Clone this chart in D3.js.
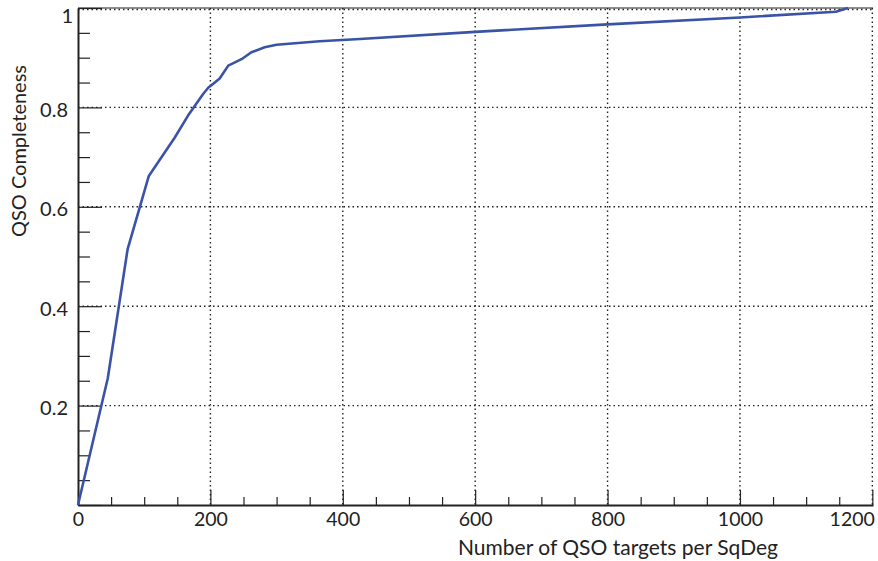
<!DOCTYPE html>
<meta charset="utf-8">
<script src="https://d3js.org/d3.v7.min.js"></script>
<style>
  body { margin: 0; background: #fff; }
  text { font-family: Lato, "Open Sans", sans-serif; fill: #222; }
</style>
<div id="chart"></div>
<script>
// curve
var targets = [0, 45, 75, 107, 146, 166, 189, 197, 202, 214, 227, 247, 262, 282, 300, 365, 426, 600, 800, 1000, 1145, 1163];
var completeness = [0, 0.255, 0.515, 0.662, 0.739, 0.783, 0.827, 0.840, 0.845, 0.858, 0.884, 0.897, 0.911, 0.921, 0.926, 0.933, 0.9375, 0.952, 0.967, 0.981, 0.9925, 1.0];
var xTicks = [0, 200, 400, 600, 800, 1000, 1200];
var yTicks = [0.2, 0.4, 0.6, 0.8, 1];

var W = 878, H = 561;
var margin = {top: 8, right: 5, bottom: 56, left: 78},
    width = W - margin.left - margin.right,
    height = H - margin.top - margin.bottom;

var svg = d3.select("#chart").append("svg")
    .attr("width", W).attr("height", H)
  .append("g")
    .attr("transform", "translate(" + margin.left + "," + margin.top + ")");

var x = d3.scaleLinear().domain([0, 1201]).range([0, width]);
var y = d3.scaleLinear().domain([0, 1]).range([height, 0]);

// dotted grid
svg.append("g").selectAll("line").data(xTicks.slice(1))
  .enter().append("line")
    .attr("x1", function(d){ return x(d); }).attr("x2", function(d){ return x(d); })
    .attr("y1", 0).attr("y2", height)
    .attr("stroke", "#222").attr("stroke-width", 1.4).attr("stroke-dasharray", "1.5,3");
svg.append("g").selectAll("line").data(yTicks)
  .enter().append("line")
    .attr("x1", 0).attr("x2", width)
    .attr("y1", function(d){ return y(d) + (d === 1 ? 1.5 : 0); })
    .attr("y2", function(d){ return y(d) + (d === 1 ? 1.5 : 0); })
    .attr("stroke", "#222").attr("stroke-width", 1.4).attr("stroke-dasharray", "1.5,3");

// top frame
svg.append("line").attr("x1", 0).attr("x2", width).attr("y1", 0).attr("y2", 0)
  .attr("stroke", "#222").attr("stroke-width", 1.2);

// x axis
var xAxis = svg.append("g").attr("transform", "translate(0," + height + ")");
xAxis.call(d3.axisBottom(x).tickValues(d3.range(0, 1201, 50)).tickSize(0).tickFormat(""));
xAxis.select(".domain").attr("stroke", "#222").attr("stroke-width", 2);
xAxis.selectAll(".tick line")
  .attr("stroke", "#222").attr("stroke-width", 1.2)
  .attr("y2", function(d){ return d % 200 === 0 ? -15 : -8; });
xAxis.selectAll(".tick").filter(function(d){ return d % 200 === 0; })
  .append("text")
    .attr("y", 21)
    .attr("x", function(d){ return d === 1200 ? 2 : 0; })
    .attr("text-anchor", function(d){ return d === 1200 ? "end" : "middle"; })
    .style("font-size", "19.5px")
    .text(function(d){ return d; });

// y axis
var yAxis = svg.append("g");
yAxis.call(d3.axisLeft(y).tickValues(d3.range(0, 1.001, 0.05)).tickSize(0).tickFormat(""));
yAxis.select(".domain").attr("stroke", "#222").attr("stroke-width", 2);
yAxis.selectAll(".tick line")
  .attr("stroke", "#222").attr("stroke-width", 1.2)
  .attr("x2", function(d){ return Math.round(d * 100) % 20 === 0 ? 24 : 12; });
yAxis.selectAll(".tick").filter(function(d){ return yTicks.indexOf(Math.round(d * 100) / 100) >= 0; })
  .append("text")
    .attr("x", function(d){ return d > 0.99 ? -5 : -10; })
    .attr("y", function(d){ return d > 0.99 ? 7 : 2; })
    .attr("dy", "0.35em").attr("text-anchor", "end")
    .style("font-size", "20px")
    .text(function(d){ return Math.round(d * 100) / 100; });

// axis titles
svg.append("text")
  .attr("x", 700).attr("y", height + 50)
  .attr("text-anchor", "end")
  .style("font-size", "21px")
  .text("Number of QSO targets per SqDeg");

svg.append("text")
  .attr("transform", "translate(-52,57) rotate(-90)")
  .attr("text-anchor", "end")
  .style("font-size", "20px")
  .text("QSO Completeness");

// curve
var pts = targets.map(function(t, i){ return [t, completeness[i]]; });
svg.append("path")
  .datum(pts)
  .attr("fill", "none")
  .attr("stroke", "#3a53a6")
  .attr("stroke-width", 2.6)
  .attr("stroke-linejoin", "round")
  .attr("d", d3.line().x(function(d){ return x(d[0]); }).y(function(d){ return y(d[1]); }));
</script>
